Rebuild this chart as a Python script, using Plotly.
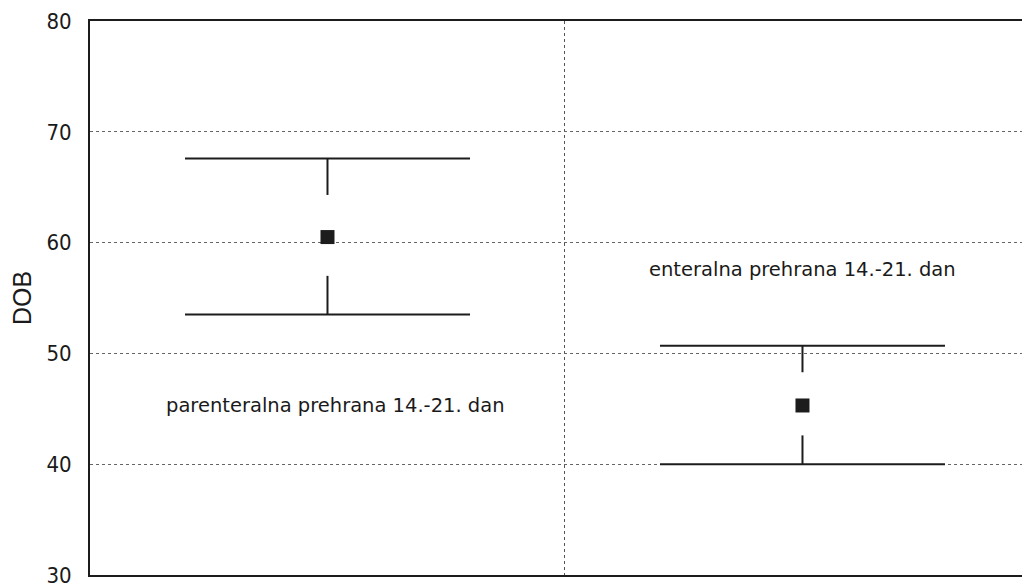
import plotly.graph_objects as go

# Two groups, mean with range bars (DOB)
groups = ["parenteralna prehrana 14.-21. dan", "enteralna prehrana 14.-21. dan"]
x_pos = [0, 1]
means = [60.5, 45.3]
upper = [67.6, 50.7]
lower = [53.5, 40.0]
# where the whisker stems stop short of the marker
stem_top_end = [64.3, 48.3]
stem_bot_start = [57.0, 42.6]

y_ticks = [30, 40, 50, 60, 70, 80]

LINE = "#1c1c1c"
CAP_HALF = 0.30

fig = go.Figure()

# caps + stems as one line trace, separated by None
cx, cy = [], []
for i, x in enumerate(x_pos):
    cx += [x - CAP_HALF, x + CAP_HALF, None, x - CAP_HALF, x + CAP_HALF, None,
           x, x, None, x, x, None]
    cy += [upper[i], upper[i], None, lower[i], lower[i], None,
           upper[i], stem_top_end[i], None, stem_bot_start[i], lower[i], None]

fig.add_trace(go.Scatter(
    x=cx, y=cy, mode="lines",
    line=dict(color=LINE, width=2),
    hoverinfo="skip", showlegend=False,
))

fig.add_trace(go.Scatter(
    x=x_pos, y=means, mode="markers",
    marker=dict(symbol="square", size=14, color=LINE),
    customdata=groups,
    hovertemplate="%{customdata}<br>DOB: %{y}<extra></extra>",
    showlegend=False,
))

# group labels
label_font = dict(family="DejaVu Sans, sans-serif", size=19.5, color="#1a1a1a")
fig.add_annotation(x=0.016, y=45.3, text=groups[0], showarrow=False, font=label_font)
fig.add_annotation(x=1.0, y=57.6, text=groups[1], showarrow=False, font=label_font)

fig.update_xaxes(
    range=[-0.5, 1.479],
    tickvals=[0.5], showticklabels=False, ticks="",
    showgrid=True, gridcolor="#555555", griddash="dot", gridwidth=1,
    showline=True, linecolor=LINE, linewidth=2, mirror=True,
    zeroline=False,
)
fig.update_yaxes(
    range=[30, 80],
    tickvals=y_ticks, ticks="",
    showgrid=True, gridcolor="#666666", griddash="dot", gridwidth=1,
    showline=True, linecolor=LINE, linewidth=2,
    zeroline=False,
    ticklabelstandoff=12,
    ticklabeloverflow="allow",
    tickfont=dict(family="Liberation Sans Narrow, DejaVu Sans Condensed, sans-serif",
                  size=22, color="#1a1a1a"),
    title=dict(text="DOB", standoff=20,
               font=dict(family="Liberation Sans, Arial, sans-serif", size=25, color="#1a1a1a")),
)

# page body has an 8px default margin, so shrink the figure to fit the window
fig.update_layout(
    width=1022, height=580,
    margin=dict(l=82, r=0, t=13, b=11),
    plot_bgcolor="white", paper_bgcolor="white",
    font=dict(family="Liberation Sans, Arial, sans-serif", color="#1a1a1a"),
)

fig.write_html("out.html")
